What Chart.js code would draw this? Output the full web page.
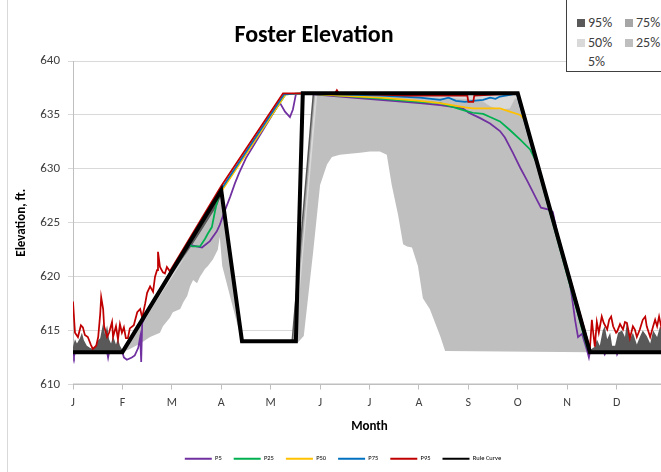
<!DOCTYPE html>
<html>
<head>
<meta charset="utf-8">
<script src="https://cdn.jsdelivr.net/npm/chart.js@4.4.1/dist/chart.umd.min.js"></script>
<style>
  html, body { margin: 0; padding: 0; background: #fff; overflow: hidden; width: 661px; height: 472px; }
  body { position: relative; font-family: Carlito, Calibri, Lato, sans-serif; }
  #frame { position: absolute; left: 7px; top: -5px; width: 740px; height: 490px; border-left: 1px solid #d9d9d9; }
  #chart { position: absolute; left: 0; top: 0; }
  #title { position: absolute; left: 164px; width: 300px; top: 19px; text-align: center; font-weight: bold; font-size: 24px; color: #000; }
  #key { position: absolute; left: 566px; top: -10px; width: 130px; height: 80px; border: 1px solid #404040; background: #fff; }
  .k { position: absolute; font-size: 14px; color: #404040; line-height: 14px; }
  .sw { position: absolute; width: 8px; height: 8px; }
</style>
</head>
<body>
<div id="frame"></div>
<canvas id="chart" width="714" height="472"></canvas>
<div id="title">Foster Elevation</div>
<div id="key"></div>
<script>
"use strict"

// month letters for the x axis (x values are in months from Jan 1)
let monthLabels = ["J", "F", "M", "A", "M", "J", "J", "A", "S", "O", "N", "D"];

// model percentile lines, [month, elevation ft]
let p5 = [[0,613],[0.02,612.6],[0.04,613],[0.69,613],[0.71,612.5],[0.73,613],[1.0,613],[1.03,612.5],[1.09,612.3],[1.19,612.5],[1.25,612.7],[1.32,613.4],[1.36,614.4],[1.38,612.1],[1.40,615.7],[1.46,616.3],[1.56,617.1],[2.31,622.8],[2.41,622.9],[2.61,622.7],[2.77,623.3],[2.91,624.2],[2.97,624.8],[3.08,626.2],[3.18,627.4],[3.28,628.7],[3.36,629.6],[3.5,631.0],[4.11,635.6],[4.19,636.1],[4.29,635.3],[4.39,634.8],[4.45,635.5],[4.51,636.9],[4.65,637],[5.40,636.7],[6.21,636.4],[7.02,636.1],[7.43,635.9],[7.89,635.6],[8.01,635.2],[8.24,634.7],[8.44,634.2],[8.64,633.5],[8.74,632.9],[8.90,631.5],[9.05,630.1],[9.19,628.9],[9.39,627.1],[9.47,626.4],[9.65,626.2],[9.71,626.0],[9.81,623.8],[10.02,620.3],[10.10,618],[10.16,616],[10.22,614.4],[10.30,614.7],[10.40,613.2],[10.44,612.5],[10.46,613],[10.74,613],[10.76,612.8],[10.78,613],[11.0,613],[11.01,612.8],[11.03,613],[12,613]];
let p25 = [[0,613],[1,613],[2.35,623.0],[2.41,622.8],[2.57,622.8],[2.67,623.5],[2.73,624],[2.81,624.6],[2.87,626],[2.91,626.8],[2.97,627.8],[3.0,628],[4.3,636.9],[4.65,637],[5.40,636.8],[6.21,636.5],[7.02,636.2],[7.43,636.1],[7.93,635.4],[8.09,635.2],[8.30,635.1],[8.44,634.8],[8.64,634.4],[8.84,633.6],[9.05,632.7],[9.25,631.8],[9.39,630.5],[9.5,628.5],[10.40,613.5],[10.46,613],[12,613]];
let p50 = [[0,613],[1,613],[3,627.9],[4.3,636.9],[4.65,637],[5.40,636.8],[6.21,636.6],[7.02,636.3],[7.43,636.1],[7.93,635.7],[8.09,635.6],[8.64,635.6],[8.84,635.3],[9.05,635.0],[9.15,634.5],[10.46,613],[12,613]];
let p75 = [[0,613],[1,613],[3,628.1],[4.27,636.9],[4.65,637],[5.40,636.9],[6.21,636.8],[7.02,636.6],[7.43,636.4],[7.6,636.6],[7.75,636.3],[7.93,636.2],[8.09,636.3],[8.30,636.4],[8.44,636.6],[8.55,636.5],[8.64,636.7],[8.84,636.85],[8.98,637],[10.46,613],[12,613]];
let p95 = [[0,617.7],[0.04,614.8],[0.10,614.4],[0.16,615.5],[0.20,615.3],[0.24,614.6],[0.30,614.4],[0.36,613.7],[0.40,613.3],[0.47,613.6],[0.51,614.4],[0.55,616.5],[0.57,618.1],[0.61,617],[0.63,615.4],[0.69,614.4],[0.73,614.8],[0.79,615.8],[0.81,614.4],[0.87,615.4],[0.91,614.2],[0.95,615.6],[0.99,614.8],[1.03,615.3],[1.07,614.3],[1.11,614.3],[1.15,615.2],[1.23,615.5],[1.30,616.7],[1.36,617],[1.40,616.2],[1.46,617.5],[1.50,618.5],[1.56,619.1],[1.62,618.6],[1.66,620],[1.70,620.6],[1.72,622.3],[1.76,620.9],[1.82,620.4],[1.86,620.3],[1.90,620.9],[1.96,620.5],[2.0,620.8],[2.5,624.6],[3.0,628.4],[4.25,637.0],[5.30,637.0],[5.34,637.3],[5.38,637.0],[6.8,636.8],[7.98,636.8],[8.0,636.2],[8.10,636.2],[8.12,636.8],[9.0,637.0],[10.46,613.3],[10.50,616],[10.52,615.1],[10.56,613.5],[10.60,615.8],[10.64,614.8],[10.70,616.3],[10.74,615.7],[10.81,615.1],[10.85,616],[10.89,616.3],[10.93,615.4],[10.99,614.8],[11.01,614.9],[11.07,615.6],[11.13,615.1],[11.17,615.8],[11.21,615.7],[11.27,614.3],[11.33,615.4],[11.37,615.1],[11.41,614.4],[11.47,615.1],[11.53,616],[11.58,616.3],[11.61,615.4],[11.68,614.4],[11.74,615.4],[11.78,616],[11.82,615.4],[11.86,616.3],[11.92,615],[12,615.5]];
let ruleCurve = [[0,613],[1,613],[3,628],[3.42,614],[4.51,614],[4.65,637],[9,637],[10.46,613],[12,613]];

// historical percentile bands (shaded areas)
let h95 = [[0,613.5],[0.04,614.2],[0.08,613.8],[0.14,614.3],[0.18,614.8],[0.22,614.1],[0.28,613.6],[0.34,613.4],[0.40,613.3],[0.45,613.5],[0.49,614],[0.55,614.3],[0.61,615.7],[0.65,614.6],[0.69,615.5],[0.73,614.2],[0.77,613.8],[0.81,614.5],[0.87,613.7],[0.91,614.3],[0.95,613.6],[1.0,613.2],[2.0,620.4],[3.0,628.0],[3.42,614],[4.42,614],[4.85,637],[9.0,637],[10.46,613.2],[10.56,613.5],[10.60,614.2],[10.66,613.6],[10.72,615],[10.76,615.4],[10.81,614.2],[10.87,614.8],[10.91,613.6],[10.97,613.6],[11.03,614.8],[11.11,615],[11.17,614.4],[11.21,615.9],[11.27,614.2],[11.33,614.8],[11.41,613.7],[11.47,614.4],[11.53,615],[11.61,614.5],[11.68,613.8],[11.74,615],[11.82,614.4],[11.88,615.4],[12,614.6]];
let h75 = [[0,613],[1,613],[2,620.3],[2.85,625.8],[3,627.6],[3.42,614],[4.45,614],[4.88,637],[9,637],[10.46,613],[12,613]];
let h50 = [[0,613],[1,613],[2,620.2],[2.85,625.6],[3,627.5],[3.42,614],[4.48,614],[4.9,636.9],[9,636.9],[10.46,613],[12,613]];
let h25 = [[0,613],[1,613],[2,619.9],[3,627.2],[3.42,614],[4.5,614],[4.94,636.8],[7.43,636.6],[8.24,636.4],[8.44,635.8],[8.64,635.5],[8.84,635.6],[8.94,636.5],[9,636.6],[10.46,613],[12,613]];
let h5 = [[0,613],[1,613],[1.15,613.3],[1.36,613.8],[1.56,614.4],[1.76,614.8],[1.82,615.4],[1.96,616.2],[2.02,616.7],[2.17,617],[2.23,617.6],[2.31,618.2],[2.37,619.1],[2.43,619.7],[2.51,619.4],[2.57,620],[2.67,620.7],[2.73,621],[2.83,621.6],[2.93,622.5],[2.97,623.7],[3.02,621],[3.42,613.9],[4.55,613.9],[4.67,614.5],[4.86,622.3],[5.0,628.5],[5.14,630.4],[5.24,631.1],[5.40,631.3],[5.60,631.4],[5.81,631.5],[6.01,631.6],[6.21,631.6],[6.35,631.3],[6.45,628.5],[6.58,625.7],[6.68,623],[6.76,622.8],[6.86,622.7],[6.98,621],[7.08,618],[7.22,617],[7.43,614.5],[7.53,613.1],[10.46,613],[12,613]];

let lineNames = ["P5", "P25", "P50", "P75", "P95", "Rule Curve"];
let lineSeries = [p5, p25, p50, p75, p95, ruleCurve];
let lineColors = ["#7030a0", "#00b050", "#ffc000", "#0070c0", "#c00000", "#000000"];

let bandNames = ["95%", "75%", "50%", "25%", "5%"];
let bandSeries = [h95, h75, h50, h25, h5];
let bandColors = ["#595959", "#a6a6a6", "#d9d9d9", "#bfbfbf", "#ffffff"];

let fontFamily = "Carlito, Calibri, Lato, sans-serif";

function toPoints(arr) {
    return arr.map(p => ({x: p[0], y: p[1]}));
}

let datasets = [];
// lines first so the legend lists them in order; rule curve drawn on top
for (let i = 0; i < lineSeries.length; i++) {
    datasets.push({
        label: lineNames[i],
        data: toPoints(lineSeries[i]),
        borderColor: lineColors[i],
        backgroundColor: lineColors[i],
        borderWidth: i === 5 ? 4 : 1.75,
        pointRadius: 0,
        tension: 0,
        fill: false,
        order: 5 - i
    });
}
// shaded bands, 95% drawn first, 5% (white) last
for (let i = 0; i < bandSeries.length; i++) {
    datasets.push({
        label: bandNames[i],
        data: toPoints(bandSeries[i]),
        borderColor: "rgba(0,0,0,0)",
        backgroundColor: bandColors[i],
        borderWidth: 0,
        pointRadius: 0,
        tension: 0,
        fill: {value: 610.1},
        order: 10 - i
    });
}

// top right key for the shaded bands
let key = document.getElementById("key");
let keySpots = [[577, 588, 23], [625, 636, 23], [577, 588, 43], [625, 636, 43], [577, 588, 62]];
for (let i = 0; i < bandNames.length; i++) {
    let s = keySpots[i];
    let sw = document.createElement("div");
    sw.className = "sw";
    sw.style.left = (s[0] - 567) + "px";
    sw.style.top = (s[2] - 4 + 9) + "px";
    sw.style.background = bandColors[i];
    key.appendChild(sw);
    let t = document.createElement("div");
    t.className = "k";
    t.style.left = (s[1] - 567) + "px";
    t.style.top = (s[2] - 7 + 9) + "px";
    t.textContent = bandNames[i];
    key.appendChild(t);
}

const ctx = document.getElementById("chart").getContext("2d");
const myChart = new Chart(ctx, {
    type: "line",
    data: {datasets: datasets},
    options: {
        responsive: false,
        animation: false,
        devicePixelRatio: 1,
        layout: {padding: {top: 61, right: 48, left: 20, bottom: 0}},
        plugins: {
            title: {display: false},
            tooltip: {enabled: false},
            legend: {
                position: "bottom",
                labels: {
                    boxWidth: 27,
                    boxHeight: 2,
                    padding: 12,
                    color: "#404040",
                    font: {size: 6.5, family: fontFamily},
                    generateLabels: function (chart) {
                        return lineNames.map((n, i) => ({
                            text: n,
                            fillStyle: lineColors[i],
                            strokeStyle: lineColors[i],
                            lineWidth: 0,
                            hidden: false,
                            datasetIndex: i
                        }));
                    }
                }
            }
        },
        scales: {
            x: {
                type: "linear",
                min: 0,
                max: 12,
                afterFit: function (scale) { scale.height = 59; },
                grid: {display: true, drawOnChartArea: false, drawTicks: true, tickLength: 5, color: "#bfbfbf"},
                border: {color: "#bfbfbf"},
                ticks: {
                    stepSize: 1,
                    autoSkip: false,
                    maxRotation: 0,
                    padding: 6,
                    color: "#404040",
                    font: {size: 12, family: fontFamily},
                    callback: function (v) { return monthLabels[v] || ""; }
                },
                title: {display: true, text: "Month", color: "#000", padding: {bottom: 9, top: 0}, font: {size: 13, weight: "bold", family: fontFamily}}
            },
            y: {
                min: 610,
                max: 640,
                afterFit: function (scale) { scale.width = 53; },
                grid: {color: "#d9d9d9", tickLength: 5},
                border: {color: "#bfbfbf"},
                ticks: {stepSize: 5, padding: 8, color: "#404040", font: {size: 13, family: fontFamily}},
                title: {display: true, text: "Elevation, ft.", color: "#000", padding: {top: -6, bottom: 0}, font: {size: 13, weight: "bold", family: fontFamily}}
            }
        }
    }
});
</script>
</body>
</html>
